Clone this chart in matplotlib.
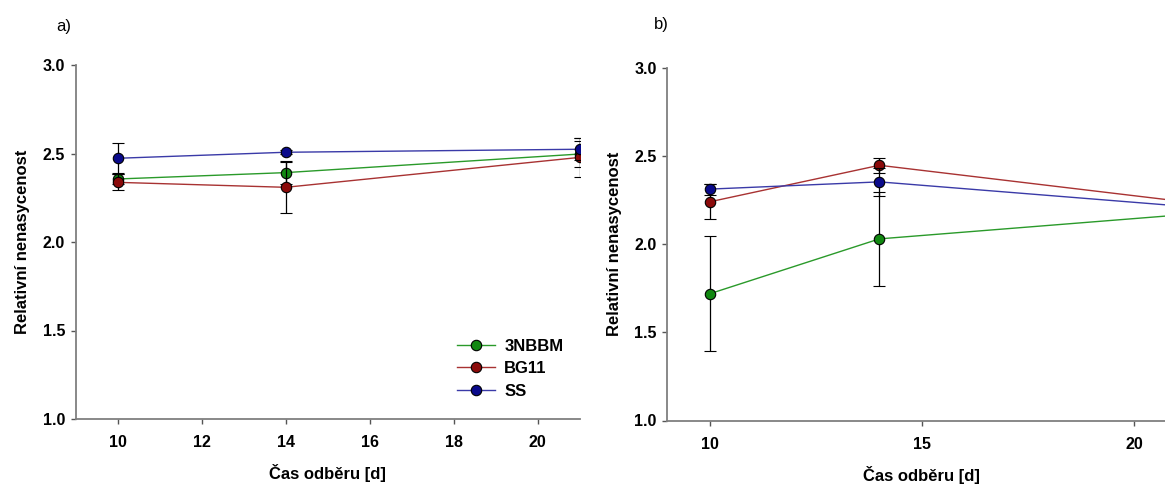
import matplotlib
matplotlib.use("Agg")
import matplotlib.pyplot as plt

# --- Data ---
days = [10, 14, 21]
series = ["3NBBM", "BG11", "SS"]

# panel a)
a_3nbbm = [2.356, 2.392, 2.497]
a_3nbbm_err = [0.03, 0.064, 0.074]
a_bg11 = [2.337, 2.309, 2.478]
a_bg11_err = [0.045, 0.143, 0.109]
a_ss = [2.473, 2.507, 2.524]
a_ss_err = [0.085, 0.01, 0.062]

# panel b)
b_3nbbm = [1.718, 2.029, 2.163]
b_3nbbm_err = [0.326, 0.268, 0.05]
b_bg11 = [2.239, 2.446, 2.245]
b_bg11_err = [0.10, 0.044, 0.05]
b_ss = [2.311, 2.352, 2.217]
b_ss_err = [0.031, 0.08, 0.05]

# --- Style ---
line_cols = ["#2a9a2a", "#a83232", "#3a3aa8"]
mark_cols = ["#118811", "#8b0a0a", "#0a0a8b"]
spine_col = "#7f7f7f"
plt.rcParams["font.family"] = ["Liberation Sans", "DejaVu Sans"]

W, H = 1165, 484
fig = plt.figure(figsize=(W / 100, H / 100), dpi=100)
ax_a = fig.add_axes([75.7 / W, (H - 419) / H, 504 / W, 354 / H])
ax_b = fig.add_axes([667.3 / W, (H - 420.5) / H, 509 / W, 353 / H])


def draw(ax, vals, errs, xticks):
    for i, name in enumerate(series):
        ax.errorbar(days, vals[i], yerr=errs[i], color=line_cols[i], lw=1.0,
                    marker="o", ms=7.5, mfc=mark_cols[i], mec="black", mew=0.8,
                    ecolor="black", elinewidth=0.9, capsize=4, capthick=0.9,
                    label=name, zorder=3 + i)
    ax.set_xlim(9, 21)
    ax.set_ylim(1.0, 3.0)
    ax.set_xticks(xticks)
    ax.set_yticks([1.0, 1.5, 2.0, 2.5, 3.0])
    ax.set_yticklabels(["1.0", "1.5", "2.0", "2.5", "3.0"])
    for s in ["top", "right"]:
        ax.spines[s].set_visible(False)
    for s in ["left", "bottom"]:
        ax.spines[s].set_color(spine_col)
        ax.spines[s].set_linewidth(1.3)
    ax.tick_params(axis="both", colors="#555555", width=1, labelcolor="black",
                   labelsize=11.5, direction="out", length=3.6)
    ax.tick_params(axis="y", pad=4)
    ax.tick_params(axis="x", pad=8)
    for t in ax.get_xticklabels() + ax.get_yticklabels():
        t.set_fontweight("bold")
    ax.set_xlabel("Čas odběru [d]", fontsize=12, fontweight="bold", labelpad=10)
    ax.set_ylabel("Relativní nenasycenost", fontsize=12, fontweight="bold", labelpad=9)


draw(ax_a, [a_3nbbm, a_bg11, a_ss], [a_3nbbm_err, a_bg11_err, a_ss_err],
     [10, 12, 14, 16, 18, 20])
draw(ax_b, [b_3nbbm, b_bg11, b_ss], [b_3nbbm_err, b_bg11_err, b_ss_err],
     [10, 15, 20])

# legend without error bars
handles = [plt.Line2D([], [], color=line_cols[i], lw=1.0, marker="o", ms=7.5,
                      mfc=mark_cols[i], mec="black", mew=0.8) for i in range(3)]
leg = ax_a.legend(handles, series, loc="upper left", frameon=False,
                  bbox_to_anchor=(450 / W, 1 - 332 / H),
                  bbox_transform=fig.transFigure, borderaxespad=0,
                  prop={"weight": "bold", "size": 12}, handlelength=2.3,
                  handletextpad=0.55, labelspacing=0.45)

fig.text(64 / W, 1 - 26 / H, "a)", fontsize=12, ha="center", va="center")
fig.text(661 / W, 1 - 25 / H, "b)", fontsize=12, ha="center", va="center")

fig.savefig("out.png", dpi=100)
